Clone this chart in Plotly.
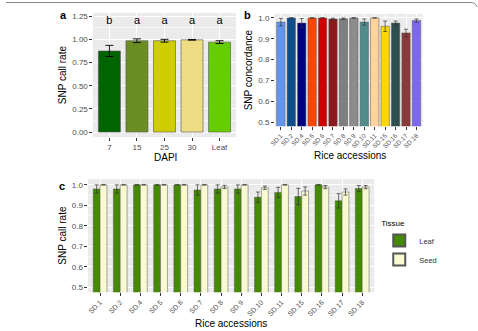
import plotly.graph_objects as go

# ---- Data ----
dapi = ["7", "15", "25", "30", "Leaf"]
dapi_rate = [0.875, 0.985, 0.985, 0.995, 0.970]
dapi_err = [0.060, 0.020, 0.015, 0.004, 0.015]
dapi_letters = ["b", "a", "a", "a", "a"]
dapi_colors = ["#006400", "#6B8E23", "#CDCD00", "#EEDC82", "#66CD00"]

acc = ["SD.1", "SD.2", "SD.4", "SD.5", "SD.6", "SD.7", "SD.8", "SD.9",
       "SD.10", "SD.11", "SD.15", "SD.16", "SD.17", "SD.18"]
conc = [0.980, 1.000, 0.975, 1.000, 1.000, 0.995, 0.996, 1.000,
        0.980, 1.000, 0.960, 0.975, 0.928, 0.987]
conc_err = [0.018, 0.0, 0.022, 0.0, 0.0, 0.004, 0.004, 0.0,
            0.015, 0.0, 0.025, 0.010, 0.018, 0.008]
acc_colors = ["#6495ED", "#104E8B", "#000080", "#FF4500", "#CD0000", "#8B1A1A",
              "#7F7F7F", "#8C8C8C", "#528B8B", "#FFD39B", "#FFD700", "#2F4F4F",
              "#8B3A3A", "#7B68EE"]

leaf_rate = [0.980, 0.980, 1.000, 1.000, 1.000, 0.975, 0.980, 0.980,
             0.940, 0.963, 0.943, 1.000, 0.922, 0.982]
leaf_err = [0.020, 0.020, 0.0, 0.0, 0.0, 0.025, 0.020, 0.020,
            0.025, 0.025, 0.040, 0.0, 0.035, 0.015]
seed_rate = [1.000, 1.000, 1.000, 1.000, 1.000, 1.000, 0.990, 1.000,
             0.986, 1.000, 0.970, 0.989, 0.965, 0.989]
seed_err = [0.0, 0.0, 0.0, 0.0, 0.0, 0.0, 0.008, 0.0,
            0.008, 0.0, 0.020, 0.008, 0.015, 0.008]

W, H = 478, 331
FONT = "Liberation Sans, Arial, sans-serif"
TICKC = "#4D4D4D"

def px(x):
    return x / W

def py(y):
    return 1 - y / H

fig = go.Figure()

# Panel a
fig.add_trace(go.Bar(x=dapi, y=dapi_rate, marker=dict(color=dapi_colors, line=dict(color="#555555", width=0.6)),
                     error_y=dict(type="data", array=dapi_err, color="black", thickness=0.9, width=4),
                     width=0.8, xaxis="x", yaxis="y", showlegend=False))
fig.add_trace(go.Scatter(x=dapi, y=[1.25] * len(dapi), text=dapi_letters, mode="text",
                         textposition="bottom center", cliponaxis=False,
                         textfont=dict(size=11, color="black", family=FONT),
                         xaxis="x", yaxis="y", showlegend=False))

# Panel b
fig.add_trace(go.Bar(x=acc, y=conc, marker=dict(color=acc_colors, line=dict(color="#555555", width=0.5)),
                     error_y=dict(type="data", array=conc_err, color="#333333", thickness=0.7, width=2),
                     width=0.8, xaxis="x2", yaxis="y2", showlegend=False))

# Panel c
fig.add_trace(go.Bar(x=acc, y=leaf_rate, name="Leaf", marker=dict(color="#458B00", line=dict(color="#555555", width=0.5)),
                     error_y=dict(type="data", array=leaf_err, color="#333333", thickness=0.7, width=2),
                     xaxis="x3", yaxis="y3", offsetgroup="leaf"))
fig.add_trace(go.Bar(x=acc, y=seed_rate, name="Seed", marker=dict(color="#FAFAD2", line=dict(color="#555555", width=0.5)),
                     error_y=dict(type="data", array=seed_err, color="#333333", thickness=0.7, width=2),
                     xaxis="x3", yaxis="y3", offsetgroup="seed"))

axis_common = dict(showline=False, zeroline=False, ticks="outside", ticklen=2.5, tickcolor="#333333",
                   gridcolor="white", gridwidth=1,
                   title_font=dict(size=10, color="black", family=FONT), fixedrange=True)

def tf(size):
    return dict(size=size, color=TICKC, family=FONT)

def ann(text, x, y, size=10, bold=False):
    return dict(text=f"<b>{text}</b>" if bold else text, x=px(x), y=py(y), xref="paper", yref="paper",
                xanchor="center", yanchor="middle",
                showarrow=False, font=dict(size=size, color="black", family=FONT))

fig.update_layout(
    width=W, height=H, margin=dict(l=0, r=0, t=0, b=0),
    paper_bgcolor="white", plot_bgcolor="#EBEBEB",
    font=dict(family=FONT),
    barmode="group", bargap=0.32, bargroupgap=0.0,
    xaxis=dict(domain=[px(88), px(233)], anchor="y", type="category", range=[-0.6, 4.6],
               tickfont=tf(8), **axis_common),
    yaxis=dict(domain=[py(137), py(12)], anchor="x", range=[-0.055, 1.285],
               tickvals=[0, 0.25, 0.5, 0.75, 1.0, 1.25], tickformat=".2f", tickfont=tf(8),
               minor=dict(showgrid=True, gridcolor="#F5F5F5", gridwidth=0.5, tickvals=[0.125, 0.375, 0.625, 0.875, 1.125]),
               title=dict(text="SNP call rate", standoff=3), **axis_common),
    xaxis2=dict(domain=[px(272), px(422)], anchor="y2", type="category", range=[-0.6, 13.6],
                tickangle=-45, tickfont=tf(6.3), **axis_common),
    yaxis2=dict(domain=[py(126), py(13)], anchor="x2", range=[0.481, 1.019],
                tickvals=[0.5, 0.6, 0.7, 0.8, 0.9, 1.0], tickformat=".1f", tickfont=tf(8),
                minor=dict(showgrid=True, gridcolor="#F5F5F5", gridwidth=0.5, tickvals=[0.55, 0.65, 0.75, 0.85, 0.95]),
                title=dict(text="SNP concordance", standoff=3), **axis_common),
    xaxis3=dict(domain=[px(83), px(373)], anchor="y3", type="category", range=[-0.6, 13.6],
                tickangle=-45, tickfont=tf(7), **axis_common),
    yaxis3=dict(domain=[py(293), py(179)], anchor="x3", range=[0.476, 1.029],
                tickvals=[0.5, 0.6, 0.7, 0.8, 0.9, 1.0], tickformat=".1f", tickfont=tf(8),
                minor=dict(showgrid=True, gridcolor="#F5F5F5", gridwidth=0.5, tickvals=[0.55, 0.65, 0.75, 0.85, 0.95]),
                title=dict(text="SNP call rate", standoff=3), **axis_common),
    legend=dict(x=px(378), y=py(216), xanchor="left", yanchor="top",
                title=dict(text="Tissue", font=dict(size=8, color="black", family=FONT)),
                font=dict(size=7.5, color="#333333", family=FONT), bgcolor="rgba(0,0,0,0)",
                itemsizing="constant", itemwidth=30, tracegroupgap=0),
    annotations=[
        ann("a", 58, 14, size=11, bold=True),
        ann("b", 245, 14, size=11, bold=True),
        ann("c", 57, 186, size=11, bold=True),
        ann("DAPI", 162, 157),
        ann("Rice accessions", 348, 155),
        ann("Rice accessions", 228, 324),
    ],
    shapes=[
        dict(type="path", xref="paper", yref="paper",
             path=f"M 0 {py(1.5)} L {px(470)} {py(1.5)} Q {px(476)} {py(1.5)} {px(477)} {py(6)}",
             line=dict(color="#888888", width=1)),
    ],
)

fig.write_html("out.html")
